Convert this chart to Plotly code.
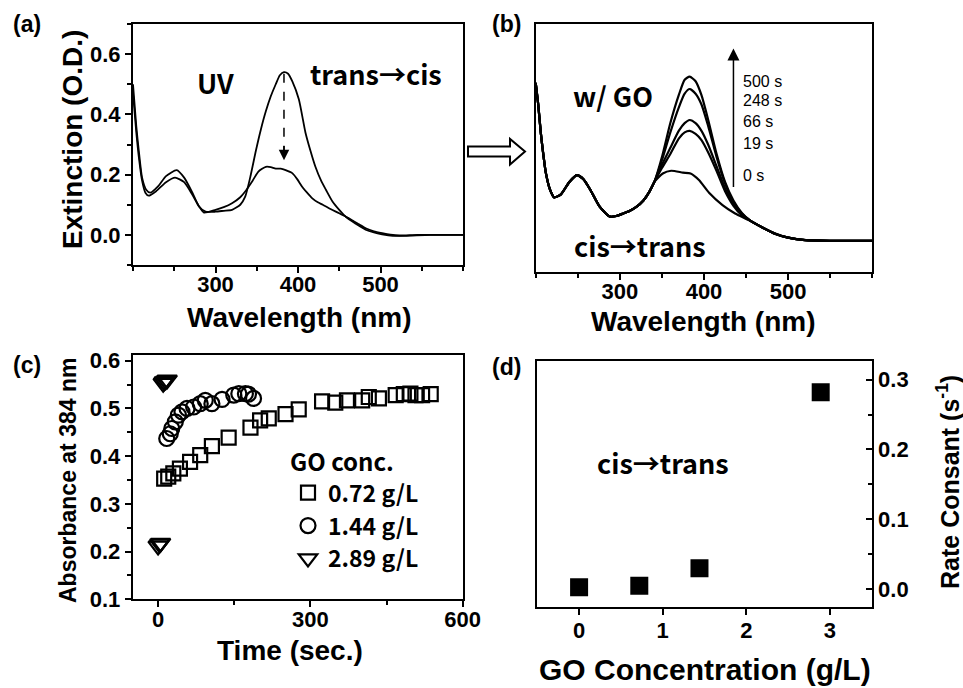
import plotly.graph_objects as go

W, H = 963, 688

# ---------------- data ----------------
# (a) UV irradiation: trans -> cis
a_trans_wl = [200, 204, 207, 211, 216, 221, 230, 240, 253, 262, 272, 280, 288, 300, 310, 320, 330, 336, 342,
              349, 355, 361, 367, 373, 378, 383, 388, 393, 401, 409, 415, 421, 428, 434, 442, 450, 458, 466,
              474, 482, 492, 502, 515, 530, 560, 600]
a_trans_od = [0.50, 0.36, 0.28, 0.19, 0.15, 0.14, 0.16, 0.195, 0.215, 0.19, 0.14, 0.094, 0.077, 0.077, 0.08,
              0.083, 0.10, 0.127, 0.19, 0.28, 0.35, 0.41, 0.46, 0.50, 0.53, 0.54, 0.535, 0.51, 0.45, 0.34, 0.28,
              0.227, 0.18, 0.149, 0.11, 0.083, 0.06, 0.044, 0.03, 0.017, 0.008, 0.002, -0.003, -0.003, 0.0, 0.0]
a_cis_wl = [200, 204, 207, 211, 215, 219, 228, 240, 251, 262, 272, 280, 286, 300, 310, 320, 330, 336, 345,
            352, 361, 367, 373, 379, 385, 393, 399, 405, 411, 417, 424, 430, 440, 450, 458, 466, 474, 482,
            492, 502, 512, 523, 545, 600]
a_cis_od = [0.47, 0.34, 0.26, 0.18, 0.14, 0.13, 0.145, 0.175, 0.19, 0.175, 0.133, 0.095, 0.074, 0.083, 0.092,
            0.105, 0.125, 0.144, 0.18, 0.21, 0.226, 0.225, 0.22, 0.22, 0.215, 0.205, 0.185, 0.16, 0.14, 0.122,
            0.108, 0.10, 0.085, 0.072, 0.06, 0.048, 0.035, 0.022, 0.012, 0.006, 0.001, -0.002, 0.0, 0.0]
a_ticks_x = [300, 400, 500]
a_ticks_y = [0.0, 0.2, 0.4, 0.6]

# (b) with GO: cis -> trans recovery
b_wl_uv = [200, 203, 206, 209, 212, 217, 222, 230, 240, 249, 257, 265, 276, 288, 296, 304, 312, 320, 328, 335, 341]
b_od_uv = [0.51, 0.44, 0.35, 0.28, 0.22, 0.165, 0.14, 0.15, 0.19, 0.212, 0.198, 0.164, 0.11, 0.078, 0.08,
           0.088, 0.097, 0.11, 0.13, 0.158, 0.19]
b_wl_vis = [350, 360, 370, 377, 383, 390, 397, 405, 415, 425, 435, 445, 455, 470, 485, 500, 520, 550, 600]
b_od_500 = [0.27, 0.38, 0.47, 0.52, 0.53, 0.515, 0.47, 0.39, 0.28, 0.19, 0.13, 0.09, 0.065, 0.042, 0.022, 0.01, 0.002, 0.0, 0.0]
b_od_248 = [0.26, 0.35, 0.43, 0.475, 0.49, 0.475, 0.44, 0.37, 0.27, 0.185, 0.125, 0.088, 0.065, 0.042, 0.022, 0.01, 0.002, 0.0, 0.0]
b_od_66 = [0.245, 0.30, 0.355, 0.38, 0.39, 0.38, 0.355, 0.31, 0.24, 0.17, 0.118, 0.085, 0.065, 0.042, 0.022, 0.01, 0.002, 0.0, 0.0]
b_od_19 = [0.235, 0.28, 0.33, 0.35, 0.355, 0.345, 0.325, 0.285, 0.225, 0.16, 0.113, 0.082, 0.065, 0.042, 0.022, 0.01, 0.002, 0.0, 0.0]
b_wl_vis0 = [351, 361, 375, 384, 394, 406, 422, 437, 453, 469, 484, 500, 516, 550, 600]
b_od_0 = [0.217, 0.226, 0.22, 0.217, 0.196, 0.155, 0.115, 0.088, 0.067, 0.043, 0.024, 0.01, 0.004, 0.0, 0.0]
b_time_labels = ["500 s", "248 s", "66 s", "19 s", "0 s"]
b_label_y = [0.514, 0.452, 0.384, 0.315, 0.212]

# (c) absorbance at 384 nm vs time
c_t_072 = [12, 20, 30, 43, 63, 83, 106, 139, 182, 201, 218, 251, 277, 323, 349, 372, 402, 415, 435, 468, 484, 497, 507, 520, 537]
c_a_072 = [0.353, 0.357, 0.364, 0.374, 0.388, 0.402, 0.421, 0.439, 0.460, 0.475, 0.479, 0.488, 0.498, 0.515, 0.512,
           0.517, 0.517, 0.524, 0.521, 0.528, 0.530, 0.531, 0.528, 0.528, 0.530]
c_t_144 = [17, 24, 27, 34, 40, 47, 57, 70, 83, 93, 106, 126, 149, 159, 172, 178, 188]
c_a_144 = [0.437, 0.447, 0.458, 0.472, 0.486, 0.493, 0.500, 0.503, 0.510, 0.517, 0.510, 0.519, 0.528, 0.531, 0.531, 0.530, 0.521]
c_t_289 = [0, 3, 5, 10, 12, 15, 18]
c_a_289 = [0.212, 0.216, 0.218, 0.553, 0.556, 0.558, 0.560]
c_names = ["0.72 g/L", "1.44 g/L", "2.89 g/L"]
c_ticks_x = [0, 300, 600]
c_ticks_y = [0.1, 0.2, 0.3, 0.4, 0.5, 0.6]

# (d) rate constant vs GO concentration
d_conc = [0.0, 0.72, 1.44, 2.89]
d_rate = [0.003, 0.005, 0.03, 0.282]
d_ticks_x = [0, 1, 2, 3]
d_ticks_y = [0.0, 0.1, 0.2, 0.3]

# ---------------- figure ----------------
def px_x(p):
    return p / W

def px_y(p):
    return 1 - p / H

def bold_ticks(vals, fmt):
    return dict(tickvals=vals, ticktext=["<b>" + format(v, fmt) + "</b>" for v in vals])

AX = "Liberation Sans"
KR = "Noto Sans CJK KR"
BLK = "black"

fig = go.Figure()

line_a = dict(color=BLK, width=1.8, shape="spline", smoothing=0.6)
fig.add_trace(go.Scatter(x=a_trans_wl, y=a_trans_od, mode="lines", line=line_a, xaxis="x", yaxis="y", showlegend=False))
fig.add_trace(go.Scatter(x=a_cis_wl, y=a_cis_od, mode="lines", line=line_a, xaxis="x", yaxis="y", showlegend=False))

line_b = dict(color=BLK, width=2.2, shape="spline", smoothing=0.6)
for od in [b_od_500, b_od_248, b_od_66, b_od_19]:
    fig.add_trace(go.Scatter(x=b_wl_uv + b_wl_vis, y=b_od_uv + od, mode="lines", line=line_b,
                             xaxis="x2", yaxis="y2", showlegend=False))
fig.add_trace(go.Scatter(x=b_wl_uv + b_wl_vis0, y=b_od_uv + b_od_0, mode="lines", line=line_b,
                         xaxis="x2", yaxis="y2", showlegend=False))

mk = dict(color=BLK, line=dict(color=BLK, width=2.2))
fig.add_trace(go.Scatter(x=c_t_072, y=c_a_072, mode="markers", name=c_names[0], xaxis="x3", yaxis="y3",
                         marker=dict(symbol="square-open", size=14, **mk)))
fig.add_trace(go.Scatter(x=c_t_144, y=c_a_144, mode="markers", name=c_names[1], xaxis="x3", yaxis="y3",
                         marker=dict(symbol="circle-open", size=15, **mk)))
fig.add_trace(go.Scatter(x=c_t_289, y=c_a_289, mode="markers", name=c_names[2], xaxis="x3", yaxis="y3",
                         marker=dict(symbol="triangle-down-open", size=17, **mk)))

fig.add_trace(go.Scatter(x=d_conc, y=d_rate, mode="markers", xaxis="x4", yaxis="y4", showlegend=False,
                         marker=dict(symbol="square", size=18, color=BLK)))

tickf = dict(family=AX, size=22, color=BLK, weight="bold")
common = dict(showline=True, linecolor=BLK, linewidth=2, mirror=True, showgrid=False, zeroline=False,
              ticks="outside", ticklen=6, tickwidth=1.5, tickcolor=BLK, tickfont=tickf)
xcommon = dict(common, ticklabelstandoff=-7)

fig.update_layout(
    width=W, height=H, margin=dict(l=0, r=0, t=0, b=0, autoexpand=False),
    paper_bgcolor="white", plot_bgcolor="white",
    xaxis=dict(domain=[px_x(133), px_x(463)], anchor="y", range=[200, 600], **bold_ticks(a_ticks_x, "d"),
               minor=dict(ticks="outside", ticklen=4, tickcolor=BLK, dtick=50, tick0=200), **xcommon),
    yaxis=dict(domain=[px_y(265), px_y(24)], anchor="x", range=[-0.1, 0.7], **bold_ticks(a_ticks_y, ".1f"),
               minor=dict(ticks="outside", ticklen=4, tickcolor=BLK, dtick=0.1, tick0=-0.1), **common),
    xaxis2=dict(domain=[px_x(535.7), px_x(872.3)], anchor="y2", range=[200, 600], **bold_ticks(a_ticks_x, "d"),
                minor=dict(ticks="outside", ticklen=4, tickcolor=BLK, dtick=50, tick0=200), **xcommon),
    yaxis2=dict(domain=[px_y(271.7), px_y(24)], anchor="x2", range=[-0.1, 0.7], showline=True, linecolor=BLK,
                linewidth=2, mirror=True, showgrid=False, zeroline=False, showticklabels=False, ticks=""),
    xaxis3=dict(domain=[px_x(132.7), px_x(462.7)], anchor="y3", range=[-50, 600], **bold_ticks(c_ticks_x, "d"),
                minor=dict(ticks="outside", ticklen=4, tickcolor=BLK, dtick=150, tick0=0), **xcommon),
    yaxis3=dict(domain=[px_y(599.3), px_y(355)], anchor="x3", range=[0.1, 0.612], **bold_ticks(c_ticks_y, ".1f"),
                minor=dict(ticks="outside", ticklen=4, tickcolor=BLK, dtick=0.05, tick0=0.1), **common),
    xaxis4=dict(domain=[px_x(537.3), px_x(871.7)], anchor="y4", range=[-0.5, 3.5], **bold_ticks(d_ticks_x, "d"),
                **dict(xcommon, ticklabelstandoff=-3)),
    yaxis4=dict(domain=[px_y(606.7), px_y(360.7)], anchor="x4", side="right", range=[-0.025, 0.327],
                **bold_ticks(d_ticks_y, ".1f"),
                minor=dict(ticks="inside", ticklen=4, tickcolor=BLK, dtick=0.05, tick0=0),
                **{**common, "ticks": "inside"}),
    legend=dict(x=px_x(288), y=px_y(440), xanchor="left", yanchor="top", bgcolor="rgba(0,0,0,0)",
                title=dict(text="GO conc.", font=dict(family=KR, size=24, color=BLK, weight="bold")),
                font=dict(family=KR, size=23, color=BLK, weight="bold"), tracegroupgap=0),
)

ann = []
def paper_text(text, x, y, size, family=AX, angle=0, weight="bold"):
    ann.append(dict(text=text, xref="paper", yref="paper", x=px_x(x), y=px_y(y), xanchor="center",
                    yanchor="middle", showarrow=False, textangle=angle,
                    font=dict(family=family, size=size, color=BLK, weight=weight)))

# panel labels
paper_text("(a)", 27, 24, 23)
paper_text("(b)", 507, 24, 23)
paper_text("(c)", 27, 365, 23)
paper_text("(d)", 507, 367, 23)
# axis titles
paper_text("Extinction (O.D.)", 72, 140, 28, angle=-90)
paper_text("Wavelength (nm)", 299, 318, 28)
paper_text("Wavelength (nm)", 703, 321, 28)
paper_text("Absorbance at 384 nm", 68, 481, 23, angle=-90)
paper_text("Time (sec.)", 290, 650, 28)
paper_text("GO Concentration (g/L)", 705, 669, 30)
paper_text("Rate Consant (s<sup>-1</sup>)", 948, 482, 25, angle=-90)

def data_text(text, x, y, xr, yr, size, family=KR, weight="bold", xanchor="center"):
    ann.append(dict(text=text, xref=xr, yref=yr, x=x, y=y, xanchor=xanchor, yanchor="middle", showarrow=False,
                    font=dict(family=family, size=size, color=BLK, weight=weight)))

data_text("UV", 300, 0.507, "x", "y", 27)
data_text("trans→cis", 494, 0.535, "x", "y", 27)
data_text("w/ GO", 292, 0.47, "x2", "y2", 27)
data_text("cis→trans", 324, -0.014, "x2", "y2", 27)
data_text("cis→trans", 1.0, 0.182, "x4", "y4", 27)
for lab, yv in zip(b_time_labels, b_label_y):
    data_text(lab, 444, yv, "x2", "y2", 16, family=AX, weight="normal", xanchor="left")

# arrows
ann.append(dict(x=435, y=0.621, ax=435, ay=0.169, xref="x2", yref="y2", axref="x2", ayref="y2",
                showarrow=True, arrowhead=2, arrowsize=1.6, arrowwidth=1.5, arrowcolor=BLK, text=""))
ann.append(dict(x=383, y=0.248, ax=383, ay=0.30, xref="x", yref="y", axref="x", ayref="y",
                showarrow=True, arrowhead=2, arrowsize=1.4, arrowwidth=1.5, arrowcolor=BLK, text=""))
fig.update_layout(annotations=ann)

fig.add_shape(type="line", xref="x", yref="y", x0=383, x1=383, y0=0.535, y1=0.28,
              line=dict(color=BLK, width=1.5, dash="dash"))

# hollow block arrow between (a) and (b)
pts = [(468, 146.5), (510, 146.5), (510, 139), (525, 151.5), (510, 164.5), (510, 156.5), (468, 156.5)]
path = "M " + " L ".join(f"{px_x(x):.5f},{px_y(y):.5f}" for x, y in pts) + " Z"
fig.add_shape(type="path", xref="paper", yref="paper", path=path, line=dict(color=BLK, width=2),
              fillcolor="white")

fig.write_html("out.html")
